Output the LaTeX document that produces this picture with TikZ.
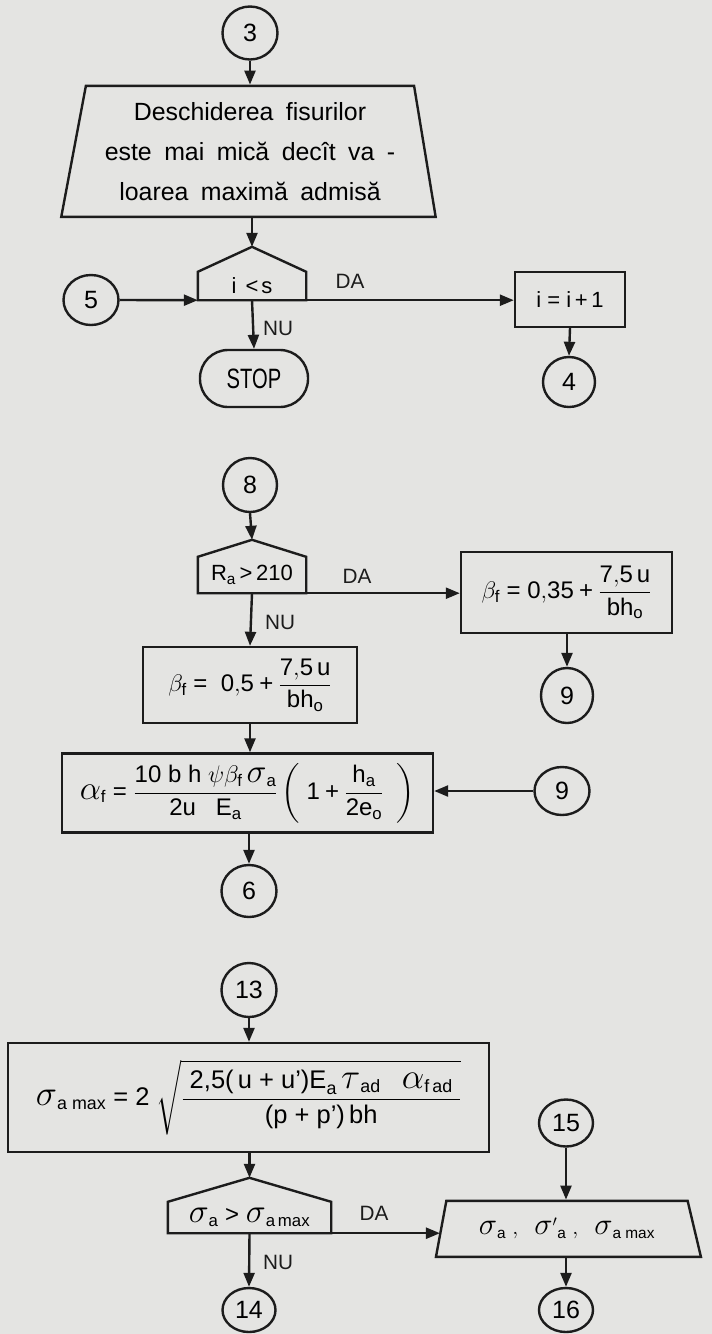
\RequirePackage{fix-cm}
\documentclass[tikz,border=0pt]{standalone}
\usepackage{fontspec}
\setmainfont{Liberation Sans}
\usepackage{amsmath}
\usetikzlibrary{arrows.meta,shapes.geometric,calc}
\definecolor{paper}{RGB}{228,228,226}
\definecolor{ink}{RGB}{28,28,28}
\newcommand\fs[2]{\fontsize{#1}{#2}\selectfont}
\newcommand\R[1]{\mathrm{#1}}
\newcommand\Pl{\mathbin{\mbox{+}}}
\newcommand\Eq{\mathrel{\mbox{=}}}
\newcommand\Gk[1]{\mbox{\scalebox{1.4}{$#1$}}}
\newcommand\housedraw[2]{%
  \draw[ln] (#1.south west) -- (#1.north west) -- ([yshift=#2]#1.north) -- (#1.north east) -- (#1.south east) -- cycle;
  \coordinate (#1-top) at ([yshift=#2]#1.north);}
\begin{document}
\begin{tikzpicture}[x=1pt,y=-1pt,
  ln/.style={line width=2.4pt, draw=ink},
  arr/.style={ln,-{Triangle[length=14pt,width=11pt]}},
  conn/.style={draw=ink, ellipse, line width=2.4pt, inner sep=0pt, font=\fs{25}{30}},
  box/.style={draw=ink, rectangle, line width=2.4pt, inner sep=0pt, font=\fs{22}{26}},
  body/.style={rectangle, inner sep=0pt, font=\fs{22}{26}},
  lbl/.style={font=\fs{20.74}{25}, inner sep=0pt, text=ink},
  trap/.style={draw=ink, line width=2.4pt, trapezium, trapezium stretches=true, inner sep=0pt, anchor=south},
]
\fill[paper] (0,0) rectangle (712,1334);
\useasboundingbox (0,0) rectangle (712,1334);

% ---- block 1
\node[conn, minimum width=55pt, minimum height=53pt] (c3) at (250,33) {3};
\node[trap, trapezium left angle=77.5, trapezium right angle=79, minimum width=376pt, minimum height=131pt,
  align=center, font={\fs{24.88}{40}\spaceskip=0.5em\relax}] (t1) at (250,218)
  {Deschiderea fisurilor\\este mai mică decît va -\\loarea maximă admisă};
\node[body, minimum width=108pt, minimum height=28pt] (d1) at (252,286) {i\hspace{9pt}<\hspace{3pt}s};
\housedraw{d1}{25pt}
\node[conn, minimum width=55pt, minimum height=50pt] (c5) at (91,300) {5};
\node[box, minimum width=110pt, minimum height=55pt] (bi) at (570,299.5) {i = i\,+\,1};
\node[draw=ink, line width=2.4pt, rectangle, rounded corners=28pt, minimum width=108pt, minimum height=57pt,
  inner sep=0pt, font=\fs{28}{30}] (stop) at (254,378.5) {\scalebox{0.72}[1]{STOP}};
\node[conn, minimum width=52pt, minimum height=50pt] (c4) at (569,382) {4};
\node[lbl] (da1) at (350,281) {DA};
\node[lbl, anchor=west] (nu1) at (263,328) {NU};

\draw[arr] (c3.south) -- (c3.south |- t1.north);
\draw[arr] (d1-top |- t1.south) -- (d1-top);
\draw[arr] (c5.east) -- (d1.south west);
\draw[arr] (d1.south east) -- (d1.south east -| bi.west);
\draw[arr] (d1.south) -- (stop.north);
\draw[arr] (bi.south) -- (c4.north);

% ---- block 2
\node[conn, minimum width=54pt, minimum height=54pt] (c8) at (250,485) {8};
\node[body, minimum width=108pt, minimum height=36pt] (d2) at (252,575) {R\textsubscript{a}\,>\,210};
\housedraw{d2}{17pt}
\node[box, minimum width=211pt, minimum height=81pt, font=\fs{24}{28}] (b35) at (566.5,592.5)
  {$\beta_{\R f} \Eq \R{0{,}35} \Pl \dfrac{\R{7{,}5\,u}}{\R{bh_o}}$};
\node[lbl] (da2) at (357,576) {DA};
\node[lbl, anchor=west] (nu2) at (265,622) {NU};
\node[conn, minimum width=52pt, minimum height=55pt] (c9a) at (567,695.5) {9};
\node[box, minimum width=214pt, minimum height=76pt, font=\fs{24}{28}] (b05) at (250,685)
  {$\beta_{\R f} \Eq \ \R{0{,}5} \Pl \dfrac{\R{7{,}5\,u}}{\R{bh_o}}$};
\node[box, minimum width=371pt, minimum height=79pt, font=\fs{24}{28}] (ba) at (247.5,793)
  {$\Gk{\alpha}_{\R f} \Eq \dfrac{\R{10}\;\R{b}\;\R{h}\;\psi\beta_{\R f}\,\Gk{\sigma}_{\R a}}{\R{2u}\;\;\;\R{E_a}}\left(\;\R{1}\Pl\dfrac{\R{h_a}}{\R{2e_o}}\;\;\right)$};
\node[conn, minimum width=55pt, minimum height=48pt] (c9b) at (562,791) {9};
\node[conn, minimum width=55pt, minimum height=52pt] (c6) at (249,891) {6};

\draw[arr] (c8.south) -- (d2-top);
\draw[arr] (d2.south east) -- (d2.south east -| b35.west);
\draw[arr] (d2.south) -- (b05.north);
\draw[arr] (b35.south -| c9a) -- (c9a.north);
\draw[arr] (b05.south) -- (b05.south |- ba.north);
\draw[arr] (c9b.west) -- (c9b.west -| ba.east);
\draw[arr] (ba.south -| c6) -- (c6.north);

% ---- block 3
\node[conn, minimum width=55pt, minimum height=54pt] (c13) at (249,990) {13};
\node[box, minimum width=481pt, minimum height=109pt, font=\fs{25.5}{30}] (bb) at (248.5,1097.5)
  {$\Gk{\sigma}_{\R{a\;max}} \Eq \R{2}\;\sqrt{\dfrac{\;\mbox{2,5(\,u + u')E}_{\R a}\,\Gk{\tau}_{\R{ad}}\;\;\;\Gk{\alpha}_{\R{f\,ad}}\;}{\mbox{(p + p')\,bh}}}$};
\node[body, minimum width=163pt, minimum height=31pt, font=\fs{24}{28}] (d3) at (249.5,1217.5)
  {$\Gk{\sigma}_{\R a} \mathrel{\mbox{>}} \Gk{\sigma}_{\R{a\,max}}$};
\housedraw{d3}{24pt}
\node[conn, minimum width=54pt, minimum height=47pt] (c15) at (566,1123) {15};
\node[trap, trapezium left angle=70, trapezium right angle=65, minimum width=265pt, minimum height=56pt,
  font=\fs{22}{26}] (t2) at (567,1258)
  {$\Gk{\sigma}_{\R a}\;,\;\;\Gk{\sigma}^{\prime}{}_{\R a}\;,\;\;\Gk{\sigma}_{\R{a\;max}}$};
\node[lbl] (da3) at (374,1213) {DA};
\node[lbl, anchor=west] (nu3) at (263,1262) {NU};
\node[conn, minimum width=53pt, minimum height=44pt] (c14) at (249,1310) {14};
\node[conn, minimum width=54pt, minimum height=44pt] (c16) at (566,1310) {16};

\draw[arr] (c13.south) -- (c13.south |- bb.north);
\draw[arr] (d3-top |- bb.south) -- (d3-top);
\draw[arr] (d3.south east) -- (d3.south east -| t2.west);
\draw[arr] (d3.south) -- (c14.north);
\draw[arr] (c15.south) -- (c15.south |- t2.north);
\draw[arr] (c16.north |- t2.south) -- (c16.north);
\end{tikzpicture}
\end{document}
